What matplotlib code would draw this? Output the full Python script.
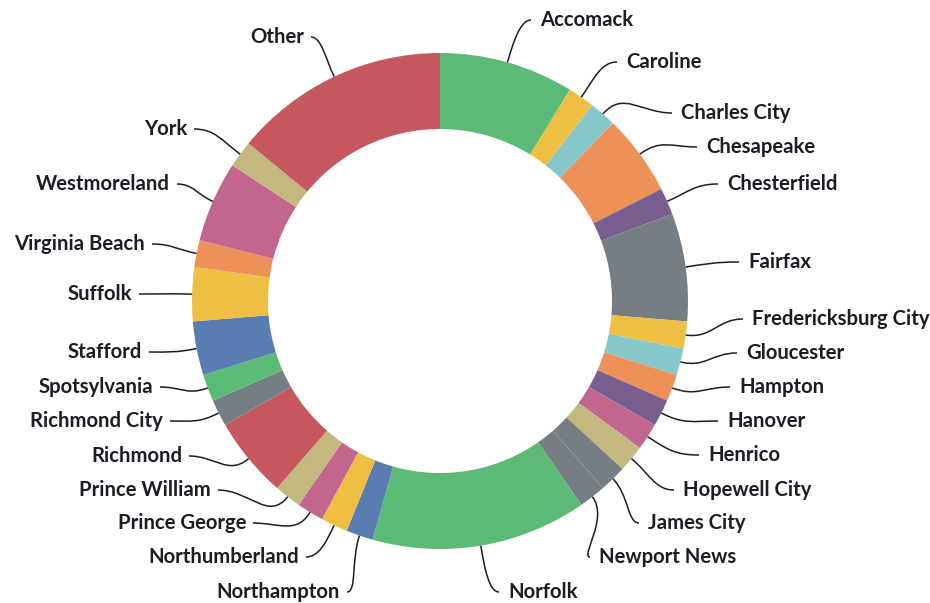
import numpy as np
import matplotlib
matplotlib.use('Agg')
from matplotlib import pyplot as plt
from matplotlib.path import Path
from matplotlib.patches import PathPatch

counties = ['Accomack', 'Caroline', 'Charles City', 'Chesapeake', 'Chesterfield',
            'Fairfax', 'Fredericksburg City', 'Gloucester', 'Hampton', 'Hanover',
            'Henrico', 'Hopewell City', 'James City', 'Newport News', 'Norfolk',
            'Northampton', 'Northumberland', 'Prince George', 'Prince William',
            'Richmond', 'Richmond City', 'Spotsylvania', 'Stafford', 'Suffolk',
            'Virginia Beach', 'Westmoreland', 'York', 'Other']
counts = [5, 1, 1, 3, 1, 4, 1, 1, 1, 1, 1, 1, 1, 1, 8,
          1, 1, 1, 1, 3, 1, 1, 2, 2, 1, 3, 1, 8]

green, yellow, teal, orange = '#5bba75', '#efbf43', '#86c8ca', '#ee9159'
purple, gray, pink, khaki = '#785f8f', '#767e83', '#c2668e', '#c3b880'
blue, red = '#5a7db1', '#c7575f'
colors = [green, yellow, teal, orange, purple, gray, yellow, teal, orange, purple,
          pink, khaki, gray, gray, green, blue, yellow, pink, khaki, red,
          gray, green, blue, yellow, orange, pink, khaki, red]

# where each label sits, in image pixels (x, y from top-left)
label_xy = [(540, 20), (626, 62), (681, 113), (706, 147), (727, 184),
            (748, 262), (752, 319), (746, 353), (739, 387), (727, 421),
            (708, 455), (683, 490), (648, 523), (599, 557), (508, 592),
            (340, 592), (299, 557), (246, 523), (211, 490), (182, 456),
            (163, 421), (153, 387), (142, 352), (132, 294), (145, 244),
            (170, 184), (187, 129), (304, 37)]

W, H = 930, 603
cx, cy = 440, H - 301
R = 248
ring = 76

fig = plt.figure(figsize=(W / 100, H / 100), dpi=100)
ax = fig.add_axes([0, 0, 1, 1])

wedges, _ = ax.pie(counts, colors=colors, startangle=90, counterclock=False,
                   center=(cx, cy), radius=R,
                   wedgeprops=dict(width=ring, linewidth=0))
ax.set_xlim(0, W)
ax.set_ylim(0, H)
ax.set_aspect('equal')
ax.axis('off')

for w, name, (lx, ly) in zip(wedges, counties, label_xy):
    mid = np.deg2rad((w.theta1 + w.theta2) / 2)
    ux, uy = np.cos(mid), np.sin(mid)
    x0, y0 = cx + R * ux, cy + R * uy
    ty = H - ly
    right = lx > cx
    if right:
        ex, ha = lx - 9, 'left'
    else:
        ex, ha = lx + 7, 'right'
    dist = np.hypot(ex - x0, ty - y0)
    p1 = (x0 + ux * dist * 0.45, y0 + uy * dist * 0.45)
    k = max(abs(ex - x0) * 0.45, 10)
    p2 = (ex - k, ty) if right else (ex + k, ty)
    path = Path([(x0, y0), p1, p2, (ex, ty)],
                [Path.MOVETO, Path.CURVE4, Path.CURVE4, Path.CURVE4])
    ax.add_patch(PathPatch(path, facecolor='none', edgecolor='#1e1e1e', lw=1.1))
    ax.text(lx, ty, name, ha=ha, va='center', fontsize=14.6, fontweight='bold',
            family=['Lato', 'DejaVu Sans'], color='#1c1c24')

fig.savefig('out.png', dpi=100)
